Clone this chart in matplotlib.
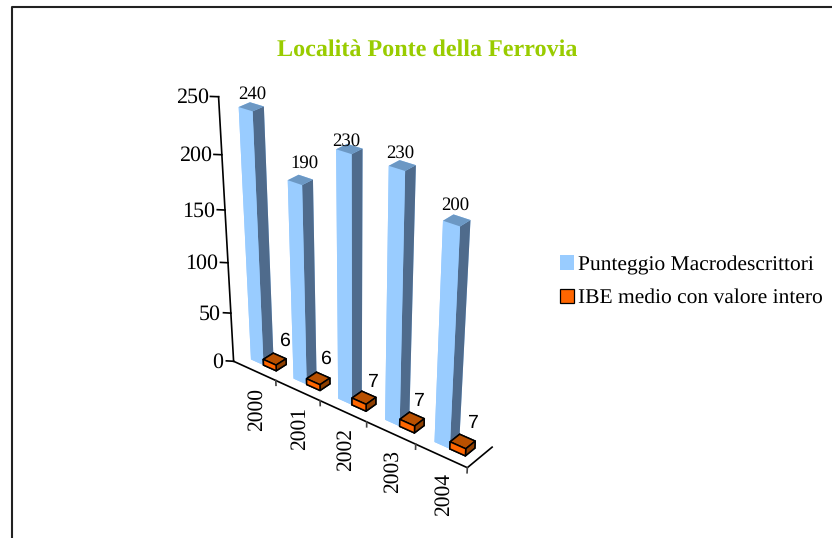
import numpy as np
import matplotlib
matplotlib.use('Agg')
import matplotlib.pyplot as plt
from matplotlib.lines import Line2D
from matplotlib.patches import Patch

years = ['2000', '2001', '2002', '2003', '2004']
punteggio = [240, 190, 230, 230, 200]
ibe = [6, 6, 7, 7, 7]
value_ticks = [0, 50, 100, 150, 200, 250]

W, H = 832, 538
BAR_W = 0.3
Y0, Y1 = 0.34, 0.72

plt.rcParams['text.hinting'] = 'no_hinting'

# (category, depth, value) -> reference pixel, used to fit the camera of the 3D view
anchors = [
    ((0, 0, 0), (234, 360)), ((1, 0, 0), (275.7, 381.7)), ((2, 0, 0), (320, 400.7)),
    ((3, 0, 0), (366.7, 421.7)), ((4, 0, 0), (415.7, 444.3)), ((5, 0, 0), (467.7, 467.3)),
    ((5, 1, 0), (491.7, 446.7)), ((0, 0, 250), (219.3, 96)),
    ((0.2, Y0, 240), (238.3, 107.3)), ((0.5, Y0, 240), (252.3, 111.7)),
    ((0.5, Y1, 240), (263.3, 106.7)), ((0.2, Y1, 240), (250, 102.3)),
    ((1.2, Y0, 190), (288.3, 180.7)), ((1.5, Y0, 190), (301.7, 185)),
    ((3.2, Y0, 230), (389, 165.7)), ((3.5, Y0, 230), (404, 170.7)),
    ((3.5, Y1, 230), (415.3, 165)), ((3.2, Y1, 230), (401.7, 160)),
    ((4.2, Y0, 200), (442.3, 221)), ((4.5, Y0, 200), (459.3, 226.7)),
    ((4.5, Y1, 200), (470, 220)), ((4.2, Y1, 200), (455, 214)),
    ((0.2, Y0, 0), (250.7, 358.3)), ((1.2, Y0, 0), (293.3, 380)),
    ((3.2, Y0, 0), (385, 420)), ((4.2, Y0, 0), (435, 442.3)),
]


def fit_camera():
    # scale the world so the least squares is not dominated by the value axis
    rows = []
    for (x, y, z), (px, py) in anchors:
        X = [x, y, z / 100, 1]
        rows.append(X + [0, 0, 0, 0] + [-px * c for c in X])
        rows.append([0, 0, 0, 0] + X + [-py * c for c in X])
    _, _, vt = np.linalg.svd(np.array(rows, dtype=float))
    P = vt[-1].reshape(3, 4)
    P[:, 2] /= 100
    if P[2] @ np.array([2.5, 0.5, 0, 1]) < 0:
        P = -P
    return P


camera = fit_camera()


def to_pixel(x, y, z):
    p = camera @ np.array([x, y, z, 1.0])
    return p[0] / p[2], p[1] / p[2]


def label(x, y, z, s, dx=0, dy=0, **kw):
    # 2D text placed at the projected position, offset in pixels
    px, py = to_pixel(x, y, z)
    fig.text((px + dx) / W, 1 - (py + dy) / H, s, **kw)


fig = plt.figure(figsize=(W / 100, H / 100), dpi=100, facecolor='white')
ax = fig.add_axes([0, 0, 1, 1], projection='3d')
ax.set_axis_off()
ax.patch.set_visible(False)
ax.computed_zorder = False


def get_proj():
    # pixel (y down) -> the 2D data coords the 3D axes draws in
    inv = ax.transData.inverted()
    o = inv.transform((0, H))
    ex = inv.transform((1, H)) - o
    ey = inv.transform((0, H - 1)) - o
    T = np.array([[ex[0], ey[0], o[0]], [ex[1], ey[1], o[1]], [0, 0, 1]])
    Q = T @ camera
    return np.vstack([Q[0], Q[1], [0, 0, 0, -1], Q[2]])


ax.get_proj = get_proj

# face order of bar3d: -z, +z, -y, +y, -x, +x
blue_faces = ['#99CCFF', '#6C98C4', '#99CCFF', '#99CCFF', '#99CCFF', '#4F6B8C']
orange_faces = ['#FF6600', '#B85000', '#FF6600', '#FF6600', '#FF6600', '#8F3F00']

xs = np.arange(len(years))
n = len(years)
ax.bar3d(xs + 0.2, [Y0] * n, [0] * n, BAR_W, Y1 - Y0, punteggio,
         color=blue_faces * n, shade=False, zorder=2)
ax.bar3d(xs + 0.5, [Y0] * n, [0] * n, BAR_W, Y1 - Y0, ibe,
         color=orange_faces * n, edgecolor='black', linewidth=1.1, shade=False, zorder=3)

# axes
line = dict(color='black', lw=1.2, zorder=1, clip_on=False)
ax.plot([0, 0], [0, 0], [0, 250], **line)
ax.plot([0, n, n], [0, 0, 1], [0, 0, 0], **line)
for v in value_ticks:
    ax.plot([-0.11, 0], [-0.1, 0], [v, v], **line)
    label(0, 0, v, str(v), dx=-10, dy=1, ha='right', va='center',
          family='Liberation Serif', fontsize=15.8)
for k in range(1, n + 1):
    ax.plot([k, k], [0, 0], [0, -5], color='#444444', lw=1.2, zorder=1, clip_on=False)
for i, year in enumerate(years):
    label(i + 0.5, 0, 0, year, dx=2, dy=17, rotation=90, ha='center', va='top',
          family='Liberation Serif', fontsize=15.5)

# value labels, the reference does not keep them at a constant distance from the bar
blue_dx = [1, 4, -3, -2, -2]
blue_dy = [-13, -17, -8, -12, -15]
orange_dx = [10, 7, 9, 7, 11]
orange_dy = [-18, -20, -16, -18, -18]
for i, v in enumerate(punteggio):
    label(i + 0.35, 0.53, v, str(v), dx=blue_dx[i], dy=blue_dy[i], ha='center', va='center',
          family='Liberation Serif', fontsize=13.5, zorder=5)
for i, v in enumerate(ibe):
    label(i + 0.65, 0.53, v, str(v), dx=orange_dx[i], dy=orange_dy[i], ha='center', va='center',
          family='Liberation Sans', fontsize=14, zorder=5)

fig.text(427 / W, 1 - 49.5 / H, 'Località Ponte della Ferrovia', ha='center', va='center',
         family='Liberation Serif', fontweight='bold', fontsize=17.4, color='#99CC00')

handles = [Patch(facecolor='#99CCFF', edgecolor='none'),
           Patch(facecolor='#FF6600', edgecolor='black', linewidth=0.9)]
fig.legend(handles, ['Punteggio Macrodescrittori', 'IBE medio con valore intero'],
           loc='center left', bbox_to_anchor=(560 / W, 1 - 281.5 / H), frameon=False,
           prop={'family': 'Liberation Serif', 'size': 15.45}, handlelength=0.65,
           handleheight=0.65, handletextpad=0.2, labelspacing=0.65, borderpad=0, borderaxespad=0)

# chart border, open towards the right and bottom of the image
fig.add_artist(Line2D([11.5 / W, 11.5 / W, 1], [0, 1 - 7 / H, 1 - 7 / H], color='#222222', lw=1.5))

fig.savefig('out.png', dpi=100)
